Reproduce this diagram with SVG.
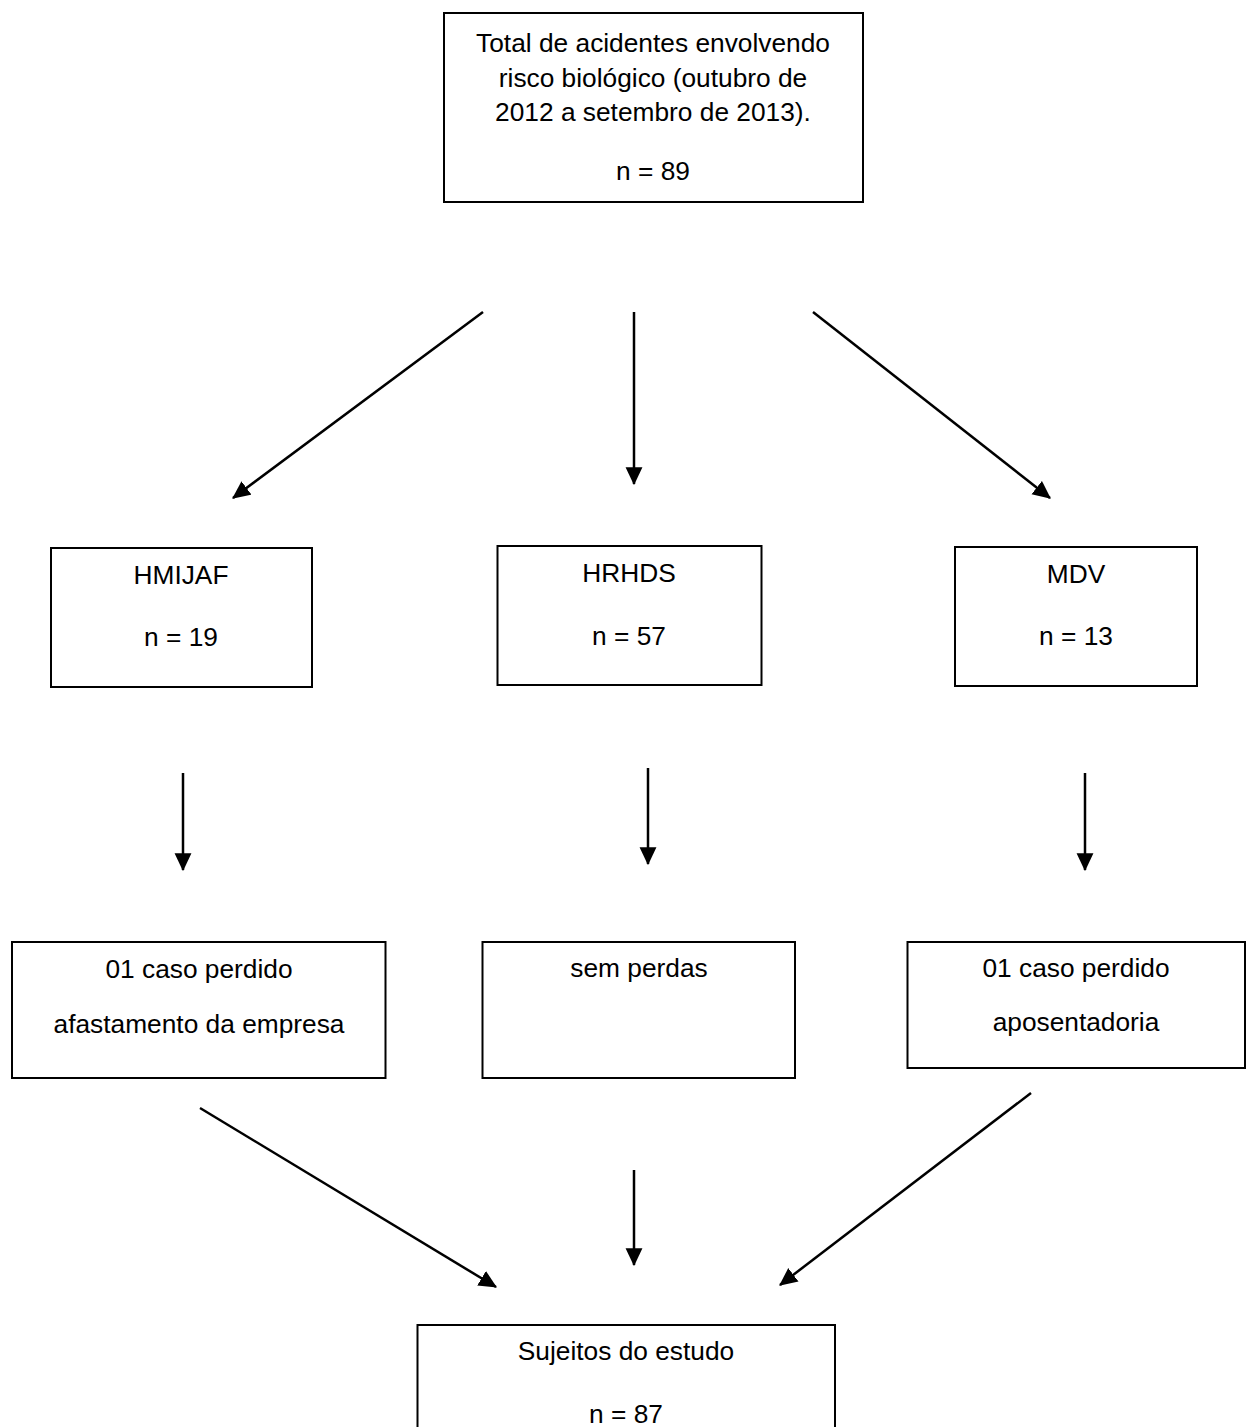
<svg xmlns="http://www.w3.org/2000/svg" width="1247" height="1427" viewBox="0 0 1247 1427">
<style>
.box{fill:#fff;stroke:#000;stroke-width:2}
.t{font-family:"Liberation Sans",Arial,sans-serif;font-size:26.3px;fill:#000;text-anchor:middle}
.c{stroke:#000;stroke-width:2.5;fill:none;marker-end:url(#ah)}
</style>
<defs>
<marker id="ah" markerUnits="userSpaceOnUse" markerWidth="18" markerHeight="18" viewBox="0 0 16 16" refX="15" refY="8" orient="auto">
<path d="M0,0.5 L16,8 L0,15.5 Z" fill="#000"/>
</marker>
</defs>
<rect width="1247" height="1427" fill="#fff"/>
<g id="n-total">
<rect class="box" x="444" y="13" width="419" height="189"/>
<text class="t" x="653" y="52">Total de acidentes envolvendo</text>
<text class="t" x="653" y="86.5">risco biológico (outubro de</text>
<text class="t" x="653" y="120.5">2012 a setembro de 2013).</text>
<text class="t" x="653" y="180">n = 89</text>
</g>
<g id="n-hmijaf">
<rect class="box" x="51" y="548" width="261" height="139"/>
<text class="t" x="181" y="584">HMIJAF</text>
<text class="t" x="181" y="646">n = 19</text>
</g>
<g id="n-hrhds">
<rect class="box" x="497.5" y="546" width="264" height="139"/>
<text class="t" x="629" y="582">HRHDS</text>
<text class="t" x="629" y="645">n = 57</text>
</g>
<g id="n-mdv">
<rect class="box" x="955" y="547" width="242" height="139"/>
<text class="t" x="1076" y="583">MDV</text>
<text class="t" x="1076" y="645">n = 13</text>
</g>
<g id="n-perda1">
<rect class="box" x="12" y="942" width="373.5" height="136"/>
<text class="t" x="199" y="978">01 caso perdido</text>
<text class="t" x="199" y="1033">afastamento da empresa</text>
</g>
<g id="n-semperdas">
<rect class="box" x="482.5" y="942" width="312.5" height="136"/>
<text class="t" x="639" y="977">sem perdas</text>
</g>
<g id="n-perda2">
<rect class="box" x="907.5" y="942" width="337.5" height="126"/>
<text class="t" x="1076" y="977">01 caso perdido</text>
<text class="t" x="1076" y="1031">aposentadoria</text>
</g>
<g id="n-sujeitos">
<rect class="box" x="417.5" y="1325" width="417.5" height="120"/>
<text class="t" x="626" y="1360">Sujeitos do estudo</text>
<text class="t" x="626" y="1423">n = 87</text>
</g>
<g id="connectors">
<line class="c" x1="483" y1="312" x2="233" y2="498"/>
<line class="c" x1="634" y1="312" x2="634" y2="484"/>
<line class="c" x1="813" y1="312" x2="1050" y2="498"/>
<line class="c" x1="183" y1="773" x2="183" y2="870"/>
<line class="c" x1="648" y1="768" x2="648" y2="864"/>
<line class="c" x1="1085" y1="773" x2="1085" y2="870"/>
<line class="c" x1="200" y1="1108" x2="496" y2="1287"/>
<line class="c" x1="634" y1="1170" x2="634" y2="1265"/>
<line class="c" x1="1031" y1="1093" x2="780" y2="1285"/>
</g>
</svg>
